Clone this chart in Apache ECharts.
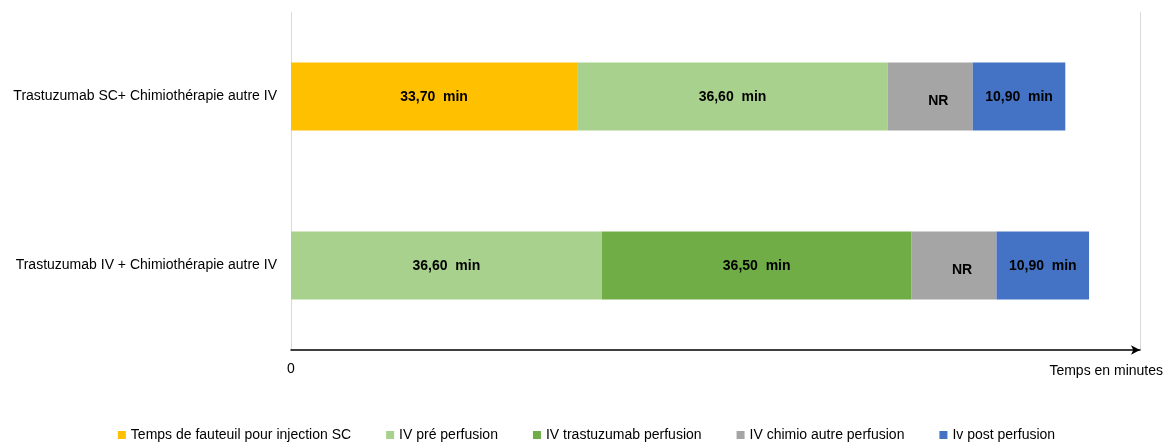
<!DOCTYPE html>
<html>
<head>
<meta charset="utf-8">
<script src="https://cdn.jsdelivr.net/npm/echarts@6/dist/echarts.min.js"></script>
<style>
  html, body { margin: 0; padding: 0; background: #fff; }
  #chart { width: 1173px; height: 448px; }
</style>
</head>
<body>
<div id="chart"></div>
<script>
// categories, top to bottom
const categories = ['Trastuzumab SC+ Chimiothérapie autre IV', 'Trastuzumab IV + Chimiothérapie autre IV']

// minutes per step ('-' = no segment)
const fauteuilSC = [33.7, '-']
const ivPre = [36.6, 36.6]
const ivTrastuzumab = ['-', 36.5]
const ivChimio = [10, 10] // not reported, drawn at its width in the picture
const ivPost = [10.9, 10.9]

const seriesNames = [
  'Temps de fauteuil pour injection SC',
  'IV pré perfusion',
  'IV trastuzumab perfusion',
  'IV chimio autre perfusion',
  'Iv post perfusion',
]
const colors = ['#FFC000', '#A9D18E', '#70AD47', '#A5A5A5', '#4472C4']

const font = "'Liberation Sans', sans-serif"

const minLabel = {
  show: true,
  color: '#000',
  fontWeight: 'bold',
  fontSize: 14,
  fontFamily: font,
  offset: [0, 1],
  formatter: (p) => p.value.toFixed(2).replace('.', ',') + '  min',
}

const makeSeries = (name, data, color, label) => ({
  name,
  type: 'bar',
  stack: 'total',
  data,
  barWidth: 68,
  itemStyle: {color},
  label,
})

const chart = echarts.init(document.getElementById('chart'))
chart.setOption({
  animation: false,
  color: colors,
  textStyle: {fontFamily: font},
  grid: {left: 291, right: 33, top: 12, bottom: 98, containLabel: false},
  legend: {
    top: 428,
    left: 'center',
    padding: 0,
    itemWidth: 8,
    itemHeight: 8,
    itemGap: 35,
    icon: 'rect',
    textStyle: {fontSize: 14, color: '#000', fontFamily: font},
    data: seriesNames,
  },
  xAxis: {
    type: 'value',
    min: 0,
    max: 100,
    interval: 100,
    name: 'Temps en minutes',
    nameLocation: 'end',
    nameGap: 23,
    nameTextStyle: {fontSize: 14, color: '#000', align: 'right', verticalAlign: 'top', padding: [14, 0, 0, 0]},
    axisLine: {show: true, symbol: ['none', 'arrow'], symbolSize: [7, 9], lineStyle: {color: '#000', width: 1.5}},
    axisTick: {show: false},
    axisLabel: {
      color: '#000',
      fontSize: 14,
      margin: 12,
      formatter: (v) => (v === 0 ? '0' : ''),
    },
    splitLine: {show: true, lineStyle: {color: '#D9D9D9', width: 1}},
  },
  yAxis: {
    type: 'category',
    inverse: true,
    data: categories,
    axisLine: {show: false},
    axisTick: {show: false},
    axisLabel: {color: '#000', fontSize: 14, margin: 14},
  },
  series: [
    makeSeries(seriesNames[0], fauteuilSC, colors[0], minLabel),
    makeSeries(seriesNames[1], ivPre, colors[1], minLabel),
    makeSeries(seriesNames[2], ivTrastuzumab, colors[2], minLabel),
    makeSeries(seriesNames[3], ivChimio, colors[3], {
      show: true, color: '#000', fontWeight: 'bold', fontSize: 14, fontFamily: font,
      offset: [8, 5], formatter: 'NR',
    }),
    makeSeries(seriesNames[4], ivPost, colors[4], minLabel),
  ],
})
</script>
</body>
</html>
